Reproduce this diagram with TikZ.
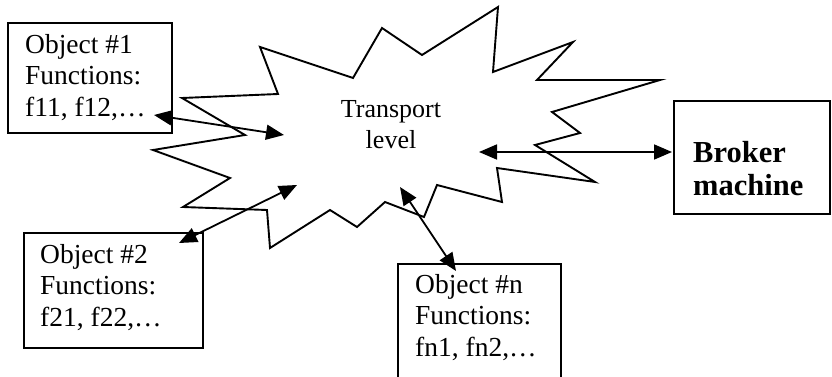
\documentclass[tikz,border=0pt]{standalone}
\usepackage{fontspec}
\setmainfont{Liberation Serif}
\usetikzlibrary{arrows.meta}
\tikzset{
  outline/.style={line width=1.9pt, line join=miter},
  boxstyle/.style={draw, line width=2pt, inner sep=0pt, anchor=north west},
  link/.style={line width=1.8pt, {Triangle[length=18pt,width=15pt]}-{Triangle[length=18pt,width=15pt]}},
  objtext/.style={inner sep=0pt, anchor=north west, align=left, font=\fontsize{27.5}{31.5}\selectfont},
  cloudtext/.style={inner sep=0pt, anchor=north, align=center, font=\fontsize{26}{31}\selectfont},
  brokertext/.style={inner sep=0pt, anchor=north west, align=left, font=\fontsize{30.5}{33}\selectfont\bfseries},
}
\begin{document}
\begin{tikzpicture}[x=1pt,y=-1pt]
\useasboundingbox (0,0) rectangle (832,377);
\fill[white] (0,0) rectangle (832,377);
\clip (0,0) rectangle (832,377);

% boxes
\node[boxstyle, minimum width=164pt, minimum height=110pt] (obj1) at (7,22) {};
\node[boxstyle, minimum width=179pt, minimum height=115pt] (obj2) at (23,232) {};
\node[boxstyle, minimum width=163pt, minimum height=130pt] (objn) at (397,263) {};
\node[boxstyle, minimum width=156pt, minimum height=113pt] (broker) at (673,100) {};

% texts
\node[objtext] (t1) at (25,34) {Object \#1\\Functions:\\f11, f12,\ldots};
\node[objtext] (t2) at (40,244) {Object \#2\\Functions:\\f21, f22,\ldots};
\node[objtext] (tn) at (415,274) {Object \#n\\Functions:\\fn1, fn2,\ldots};
\node[brokertext] (tb) at (693,141.5) {Broker\\machine};

% cloud
\draw[outline] (260,47) -- (353,78) -- (382,28) -- (422,55) -- (498,7) -- (493,72)
  -- (573,42) -- (537,80) -- (660,80) -- (552,112) -- (580,133) -- (535,145)
  -- (595,182) -- (497,168) -- (502,202) -- (437,185) -- (424,217) -- (385,202)
  -- (357,227) -- (330,210) -- (270,248) -- (267,210) -- (183,207) -- (230,178)
  -- (153,150) -- (245,135) -- (182,98) -- (278,94) -- cycle;
\node[cloudtext] (tl) at (391,100) {Transport\\level};

% connectors
\coordinate (a1s) at (154,115); \coordinate (a1e) at (284,135);
\coordinate (a2s) at (179,243); \coordinate (a2e) at (297,185);
\coordinate (a3s) at (479,152); \coordinate (a3e) at (672,152);
\coordinate (a4s) at (400,187); \coordinate (a4e) at (456,271);
\draw[link] (a1s) -- (a1e);
\draw[link] (a2s) -- (a2e);
\draw[link] (a3s) -- (a3e);
\draw[link] (a4s) -- (a4e);
\end{tikzpicture}
\end{document}
